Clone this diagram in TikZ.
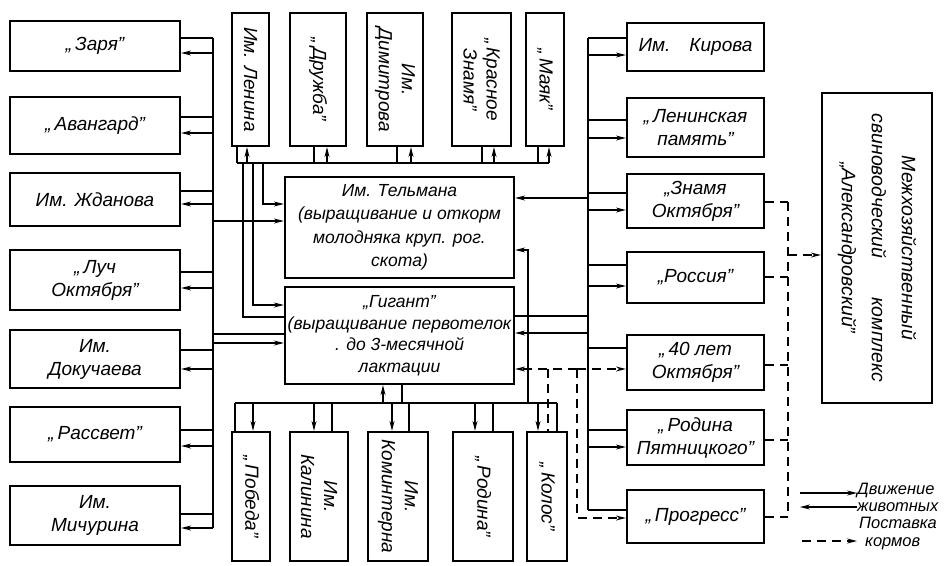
\documentclass[tikz,border=0pt]{standalone}
\usepackage{fontspec}
\setmainfont{Liberation Sans}
\usetikzlibrary{arrows.meta}
\newcommand\mkbox[5]{\node[box, minimum width={(#4-#2)*1pt}, minimum height={(#5-#3)*1pt}] (#1) at ({(#2+#4)/2},{(#3+#5)/2}) {};}
\begin{document}
\begin{tikzpicture}[x=1pt,y=-1pt,
  txt/.style={font=\itshape\fontsize{19}{23}\selectfont, inner sep=1pt, align=center},
  vtxt/.style={txt, rotate=-90},
  box/.style={draw, line width=2.2pt, inner sep=0pt},
  conn/.style={line width=1.3pt},
  arr/.style={conn, -{Stealth[length=10pt,width=5pt]}},
  feed/.style={conn, dash pattern=on 9pt off 6pt},
  feedarr/.style={feed, -{Stealth[length=10pt,width=5pt]}},
  lgtxt/.style={font=\itshape\fontsize{16.5}{17}\selectfont, inner sep=0pt, anchor=west},
]
\fill[white] (0,0) rectangle (947,565);
\useasboundingbox (0,0) rectangle (947,565);

% ---------- left column ----------
\mkbox{zarya}{10}{21}{180}{71}
\mkbox{avangard}{10}{97}{180}{154}
\mkbox{zhdanov}{10}{173}{180}{226}
\mkbox{luch}{10}{250}{180}{310}
\mkbox{dokuch}{10}{330}{180}{388}
\mkbox{rassvet}{10}{407}{180}{462}
\mkbox{michurin}{10}{486}{180}{545}
\node[txt] (zarya-t) at (zarya) {„\,Заря”};
\node[txt] (avangard-t) at (avangard) {„\,Авангард”};
\node[txt] (zhdanov-t) at (zhdanov) {Им. Жданова};
\node[txt] (luch-t) at (luch) {„\,Луч\\Октября”};
\node[txt] (dokuch-t) at (dokuch) {Им.\\Докучаева};
\node[txt] (rassvet-t) at (rassvet) {„\,Рассвет”};
\node[txt] (michurin-t) at (michurin) {Им.\\Мичурина};

% ---------- top row ----------
\mkbox{lenin}{232}{13}{269}{146}
\mkbox{druzhba}{290}{13}{346}{146}
\mkbox{dimitrov}{367}{13}{423}{146}
\mkbox{krasnoe}{452}{13}{511}{146}
\mkbox{mayak}{526}{13}{564}{146}
\node[vtxt] (lenin-t) at (lenin) {Им. Ленина};
\node[vtxt] (druzhba-t) at (druzhba) {„\,Дружба”};
\node[vtxt] (dimitrov-t) at (dimitrov) {Им.\\Димитрова};
\node[vtxt] (krasnoe-t) at (krasnoe) {„\,Красное\\Знамя”};
\node[vtxt] (mayak-t) at (mayak) {„\,Маяк”};

% ---------- centre ----------
\mkbox{telman}{285}{177}{514}{278}
\mkbox{gigant}{285}{287}{514}{384}
\node[txt, font=\itshape\fontsize{17.5}{23.5}\selectfont] (telman-t) at (telman) {Им. Тельмана\\(выращивание и откорм\\молодняка круп. рог.\\скота)};
\node[txt, font=\itshape\fontsize{17.5}{21.5}\selectfont] (gigant-t) at (gigant) {„Гигант”\\(выращивание первотелок\\. до 3-месячной\\лактации};

% ---------- bottom row ----------
\mkbox{pobeda}{232}{432}{270}{561}
\mkbox{kalinin}{290}{432}{348}{561}
\mkbox{komintern}{368}{432}{428}{561}
\mkbox{rodina}{453}{432}{513}{561}
\mkbox{kolos}{527}{432}{567}{561}
\node[vtxt] (pobeda-t) at (pobeda) {„\,Победа”};
\node[vtxt] (kalinin-t) at (kalinin) {Им.\\Калинина};
\node[vtxt] (komintern-t) at (komintern) {Им.\\Коминтерна};
\node[vtxt] (rodina-t) at (rodina) {„\,Родина”};
\node[vtxt] (kolos-t) at (kolos) {„\,Колос”};

% ---------- right column ----------
\mkbox{kirov}{627}{23}{764}{71}
\mkbox{lenpam}{627}{98}{764}{157}
\mkbox{znamya}{627}{174}{764}{228}
\mkbox{rossiya}{627}{252}{764}{303}
\mkbox{sorok}{627}{335}{764}{390}
\mkbox{rodpyat}{627}{410}{764}{465}
\mkbox{progress}{627}{490}{764}{543}
\node[txt] (kirov-t) at (kirov) {Им.\quad Кирова};
\node[txt] (lenpam-t) at (lenpam) {„\,Ленинская\\память”};
\node[txt] (znamya-t) at (znamya) {„Знамя\\Октября”};
\node[txt] (rossiya-t) at (rossiya) {„Россия”};
\node[txt] (sorok-t) at (sorok) {„\,40 лет\\Октября”};
\node[txt] (rodpyat-t) at (rodpyat) {„\,Родина\\Пятницкого”};
\node[txt] (progress-t) at (progress) {„\,Прогресс”};

% ---------- far right ----------
\mkbox{mezh}{822}{93}{932}{403}
\node[vtxt, font=\itshape\fontsize{19.5}{30}\selectfont] (mezh-t) at (mezh) {Межхозяйственный\\свиноводческий\qquad комплекс\\„Александровский”};

% ---------- left bus ----------
\coordinate (lbT) at (213,38);
\coordinate (lbB) at (213,528);
\draw[conn] (lbT) -- (lbB);
\foreach \n/\a/\b in {zarya/38/53, avangard/117/133, zhdanov/191/204, luch/272/288, dokuch/350/369, rassvet/430/446, michurin/514/528} {
  \coordinate (lp-\n) at (213,\a);
  \coordinate (la-\n) at (213,\b);
  \draw[conn] (lp-\n) -- (lp-\n -| \n.east);
  \draw[arr] (la-\n) -- (la-\n -| \n.east);
}
\coordinate (lc1) at (213,221);
\coordinate (lc2) at (213,334);
\coordinate (lc3) at (213,343);
\draw[arr] (lc1) -- (lc1 -| telman.west);
\draw[conn] (lc2) -- (lc2 -| gigant.west);
\draw[arr] (lc3) -- (lc3 -| gigant.west);

% ---------- top bus ----------
\coordinate (tbL) at (237,163);
\coordinate (tbR) at (549,163);
\draw[conn] (tbL) -- (tbR);
\foreach \n/\a/\b in {lenin/237/247, druzhba/314/327, dimitrov/397/411, krasnoe/482/494, mayak/538/549} {
  \coordinate (tp-\n) at (\a,163);
  \coordinate (ta-\n) at (\b,163);
  \draw[conn] (tp-\n) -- (tp-\n |- \n.south);
  \draw[arr] (ta-\n) -- (ta-\n |- \n.south);
}
\coordinate (tv1) at (243,163);
\coordinate (tv1e) at (243,317);
\coordinate (tv2) at (253,163);
\coordinate (tv2e) at (253,305);
\coordinate (tv3) at (263,163);
\coordinate (tv3e) at (263,204);
\draw[conn] (tv1) -- (tv1e) -- (tv1e -| gigant.west);
\draw[arr] (tv2) -- (tv2e) -- (tv2e -| gigant.west);
\draw[arr] (tv3) -- (tv3e) -- (tv3e -| telman.west);

% ---------- bottom bus ----------
\coordinate (bbL) at (235,403);
\coordinate (bbR) at (557,403);
\draw[conn] (bbL) -- (bbR);
\foreach \n/\a/\b in {pobeda/235/253, kalinin/332/314, komintern/409/392, rodina/493/475, kolos/557/538} {
  \coordinate (bp-\n) at (\a,403);
  \coordinate (ba-\n) at (\b,403);
  \draw[conn] (bp-\n) -- (bp-\n |- \n.north);
  \draw[arr] (ba-\n) -- (ba-\n |- \n.north);
}
\coordinate (bg1) at (383,403);
\coordinate (bg2) at (402,403);
\draw[arr] (bg1) -- (bg1 |- gigant.south);
\draw[conn] (bg2) -- (bg2 |- gigant.south);
\coordinate (bv) at (528,403);
\coordinate (bve) at (528,250);
\draw[arr] (bv) -- (bve) -- (bve -| telman.east);

% ---------- right bus ----------
\coordinate (rbT) at (588,38);
\coordinate (rbB) at (588,510);
\draw[conn] (rbT) -- (rbB);
\foreach \n/\a/\b in {kirov/38/55, lenpam/120/138, znamya/193/210, rossiya/265/286, rodpyat/430/447} {
  \coordinate (rp-\n) at (588,\a);
  \coordinate (ra-\n) at (588,\b);
  \draw[conn] (rp-\n) -- (rp-\n -| \n.west);
  \draw[arr] (ra-\n) -- (ra-\n -| \n.west);
}
\coordinate (rp-sorok) at (588,348);
\draw[conn] (rp-sorok) -- (rp-sorok -| sorok.west);
\draw[conn] (rbB) -- (rbB -| progress.west);
\coordinate (rc1) at (588,198);
\coordinate (rc2) at (588,316);
\coordinate (rc3) at (588,333);
\draw[arr] (rc1) -- (rc1 -| telman.east);
\draw[conn] (rc2) -- (rc2 -| gigant.east);
\draw[arr] (rc3) -- (rc3 -| gigant.east);

% ---------- feed (dashed) ----------
\coordinate (fd1) at (577,369);
\coordinate (fd2) at (548,369);
\coordinate (fd3) at (577,518);
\draw[feedarr] (fd1) -- (fd1 -| gigant.east);
\draw[feedarr] (fd1) -- (fd1 -| sorok.west);
\draw[feed] (fd2) -- (fd2 |- kolos.north);
\draw[feedarr] (fd1) -- (fd3) -- (fd3 -| progress.west);

\coordinate (fvT) at (788,202);
\coordinate (fvB) at (788,517);
\draw[feed] (fvT) -- (fvB);
\foreach \n/\a in {znamya/202, rossiya/277, sorok/365, rodpyat/440, progress/517} {
  \coordinate (fv-\n) at (788,\a);
  \draw[feed] (fv-\n -| \n.east) -- (fv-\n);
}
\coordinate (fvm) at (788,255);
\draw[feedarr] (fvm) -- (fvm -| mezh.west);

% ---------- legend ----------
\node[lgtxt] (lg1) at (857,490) {Движение};
\node[lgtxt] (lg2) at (857,507) {животных};
\node[lgtxt] (lg3) at (859,523) {Поставка};
\node[lgtxt] (lg4) at (865,544) {кормов};
\coordinate (lgA) at (800,493);
\coordinate (lgB) at (800,507);
\coordinate (lgC) at (802,541);
\draw[arr] (lgA) -- (lgA -| lg1.west);
\draw[arr] (lgB -| lg2.west) -- (lgB);
\draw[feedarr] (lgC) -- ([xshift=-8pt]lgC -| lg4.west);
\end{tikzpicture}
\end{document}
